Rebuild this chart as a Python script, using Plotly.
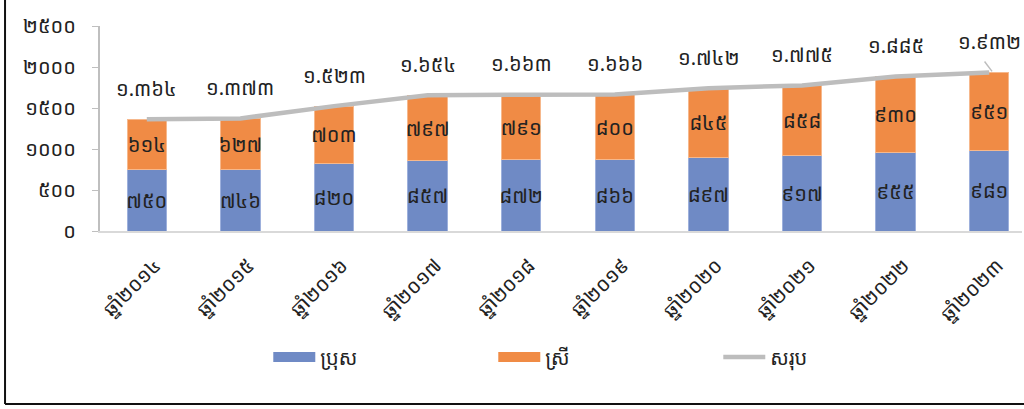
import plotly.graph_objects as go

years = ["២០១៤", "២០១៥", "២០១៦", "២០១៧", "២០១៨", "២០១៩", "២០២០", "២០២១", "២០២២", "២០២៣"]
male = [750, 746, 820, 857, 872, 866, 897, 917, 955, 981]
female = [614, 627, 703, 797, 791, 800, 845, 858, 930, 951]
total = [1364, 1373, 1523, 1654, 1663, 1666, 1742, 1775, 1885, 1932]
y_ticks = [0, 500, 1000, 1500, 2000, 2500]

KH = str.maketrans("0123456789", "០១២៣៤៥៦៧៨៩")


def kh(n, sep=False):
    s = f"{n:,}".replace(",", ".") if sep else str(n)
    return s.translate(KH)


cats = ["ឆ្នាំ" + y for y in years]
FONT = "Noto Sans Khmer, Khmer OS, Noto Sans, DejaVu Sans, sans-serif"
BLUE = "#6f8ac5"
ORANGE = "#f08b45"
GREY = "#bdbdbd"

fig = go.Figure()
fig.add_trace(go.Bar(
    x=cats, y=male, name="ប្រុស", showlegend=False,
    marker=dict(color=BLUE, line=dict(color="#9db0dc", width=1)),
    text=[kh(v) for v in male], textposition="inside", insidetextanchor="middle",
    textangle=0, constraintext="none",
    textfont=dict(size=20, color="#222222", family=FONT),
))
fig.add_trace(go.Bar(
    x=cats, y=female, name="ស្រី", showlegend=False,
    marker=dict(color=ORANGE, line=dict(color="#f6b88c", width=1)),
    text=[kh(v) for v in female], textposition="inside", insidetextanchor="middle",
    textangle=0, constraintext="none",
    textfont=dict(size=20, color="#222222", family=FONT),
))
fig.add_trace(go.Scatter(
    x=cats, y=total, name="សរុប", mode="lines", showlegend=False,
    line=dict(color=GREY, width=4.5),
))

# legend entries (wide swatches like the original)
for name, col, w in [("ប្រុស", BLUE, 14), ("ស្រី", ORANGE, 14), ("សរុប", GREY, 4.5)]:
    fig.add_trace(go.Scatter(x=[None], y=[None], mode="lines", name=name,
                             line=dict(color=col, width=w)))

for c, v in zip(cats, total):
    fig.add_annotation(x=c, y=v, text=kh(v, sep=True), showarrow=False,
                       yshift=31, font=dict(size=20, color="#222222", family=FONT))

# small leader line on the last label
fig.add_shape(type="line", xref="x", yref="y", x0=len(cats) - 1 - 0.05, x1=len(cats) - 1 + 0.03,
              y0=total[-1] + 135, y1=total[-1] + 15, line=dict(color=GREY, width=1.5))

# left / bottom frame
fig.add_shape(type="line", xref="paper", yref="paper", x0=-0.103, x1=-0.103, y0=-0.844, y1=1.2,
              line=dict(color="#111111", width=2))
fig.add_shape(type="line", xref="paper", yref="paper", x0=-0.103, x1=1.01, y0=-0.844, y1=-0.844,
              line=dict(color="#111111", width=2))

fig.update_layout(
    width=1024, height=409,
    margin=dict(l=100, r=2, t=26, b=178),
    barmode="stack", bargap=0.58,
    plot_bgcolor="white", paper_bgcolor="white",
    font=dict(family=FONT, size=20, color="#222222"),
    showlegend=True,
    legend=dict(orientation="h", xref="container", yref="container", x=0.262, y=0.127,
                xanchor="left", yanchor="middle", entrywidth=168, itemwidth=42,
                traceorder="normal", font=dict(size=20)),
    xaxis=dict(range=[-0.5, 9.35], tickangle=-45, showline=True, linecolor="#d9d9d9", linewidth=2,
               showgrid=False, ticks="", ticklabelshift=8, ticklabelstandoff=13,
               tickfont=dict(size=20), automargin=False),
    yaxis=dict(range=[0, 2500], tickvals=y_ticks, ticktext=[kh(v) for v in y_ticks],
               showline=True, linecolor="#bfbfbf", linewidth=2, showgrid=False, zeroline=False,
               ticks="outside", ticklen=6, tickcolor="#bfbfbf", tickfont=dict(size=20),
               ticklabelstandoff=12, automargin=False),
)

fig.write_html("out.html", config={"displayModeBar": False},
               post_script="document.body.style.margin='0';")
